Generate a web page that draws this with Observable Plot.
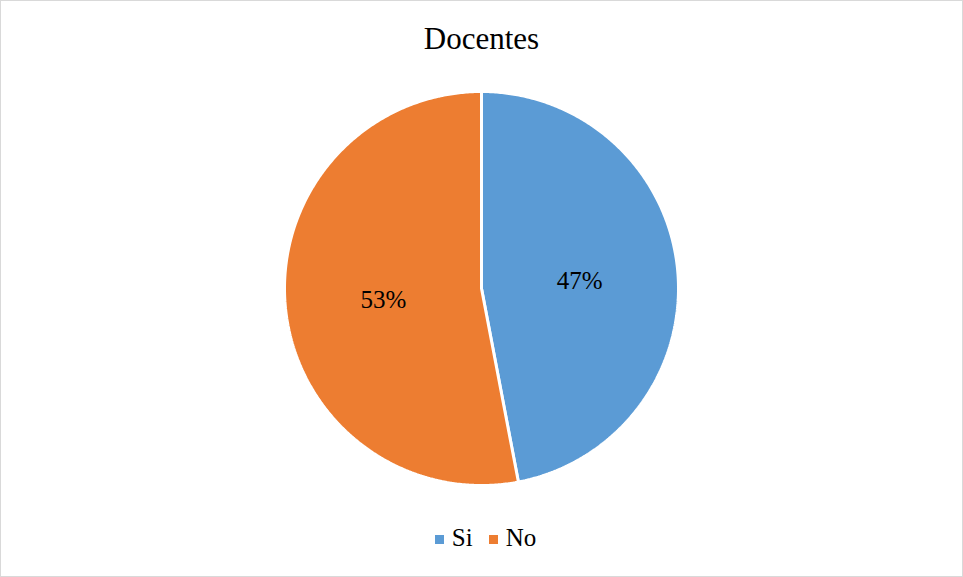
<!DOCTYPE html>
<html>
<head>
<meta charset="utf-8">
<script src="https://cdn.jsdelivr.net/npm/d3@7"></script>
<script src="https://cdn.jsdelivr.net/npm/@observablehq/plot@0.6"></script>
<style>
  html, body { margin: 0; padding: 0; background: #fff; }
  #frame { position: relative; width: 963px; height: 577px; box-sizing: border-box; border: 1px solid #d9d9d9; background: #fff; overflow: hidden; font-family: 'Liberation Serif', 'Times New Roman', Times, 'Tinos', 'Nimbus Roman', 'Nimbus Roman No9 L', 'FreeSerif', 'Noto Serif', 'DejaVu Serif', serif; }
  #title { position: absolute; left: 0; right: 0; top: 22px; text-align: center; font-size: 31px; line-height: 31px; color: #000; }
  #chart { position: absolute; left: 0; top: 70px; }
  #legend { position: absolute; left: 0; right: 0; top: 524px; display: flex; justify-content: center; align-items: center; font-size: 25px; line-height: 25px; color: #000; padding-left: 8px; }
  .item { display: flex; align-items: center; margin: 0 8px; }
  .sw { width: 9px; height: 9px; margin-right: 8px; margin-top: 4px; }
</style>
</head>
<body>
<div id="frame">
  <div id="title"></div>
  <div id="chart"></div>
  <div id="legend"></div>
</div>
<script>
const title = "Docentes";
const categories = ["Si", "No"];
const values = [47, 53];
const colors = ["#5B9BD5", "#ED7D31"];

const FONT = "'Liberation Serif', 'Times New Roman', Times, 'Tinos', 'Nimbus Roman', 'Nimbus Roman No9 L', 'FreeSerif', 'Noto Serif', 'DejaVu Serif', serif";
const W = 961, H = 435;
const R = 197;           // pixel radius
const cx = 480, cy = 217; // pixel centre inside svg

// slice geometry via d3.pie (start at 12 o'clock, clockwise)
const pie = d3.pie().sort(null).value(d => d.value)(categories.map((c, i) => ({cat: c, value: values[i]})));
const pts = [];
const labels = [];
const total = d3.sum(values);
pie.forEach(s => {
  const cat = s.data.cat;
  pts.push({cat, x: 0, y: 0});
  const n = Math.max(2, Math.ceil((s.endAngle - s.startAngle) / (Math.PI / 360)));
  for (let k = 0; k <= n; k++) {
    const a = s.startAngle + (s.endAngle - s.startAngle) * k / n;
    pts.push({cat, x: Math.sin(a), y: Math.cos(a)});
  }
  pts.push({cat, x: 0, y: 0});
  const m = (s.startAngle + s.endAngle) / 2;
  labels.push({cat, x: 0.5 * Math.sin(m), y: 0.5 * Math.cos(m), text: Math.round(s.data.value / total * 100) + "%"});
});

const chart = Plot.plot({
  width: W,
  height: H,
  margin: 0,
  x: {domain: [-cx / R, (W - cx) / R], axis: null},
  y: {domain: [-(H - cy) / R, cy / R], axis: null},
  color: {domain: categories, range: colors},
  style: {background: "transparent", fontFamily: FONT},
  marks: [
    Plot.line(pts, {x: "x", y: "y", z: "cat", fill: "cat", stroke: "white", strokeWidth: 3, strokeLinejoin: "miter"}),
    Plot.text(labels, {x: "x", y: "y", text: "text", fontSize: 25, fontFamily: FONT, fill: "black", dy: 2})
  ]
});
document.getElementById("chart").appendChild(chart);
document.getElementById("title").textContent = title;

const legend = document.getElementById("legend");
categories.forEach((c, i) => {
  const item = document.createElement("div");
  item.className = "item";
  const sw = document.createElement("div");
  sw.className = "sw";
  sw.style.background = colors[i];
  const t = document.createElement("span");
  t.textContent = c;
  item.appendChild(sw);
  item.appendChild(t);
  legend.appendChild(item);
});
</script>
</body>
</html>
